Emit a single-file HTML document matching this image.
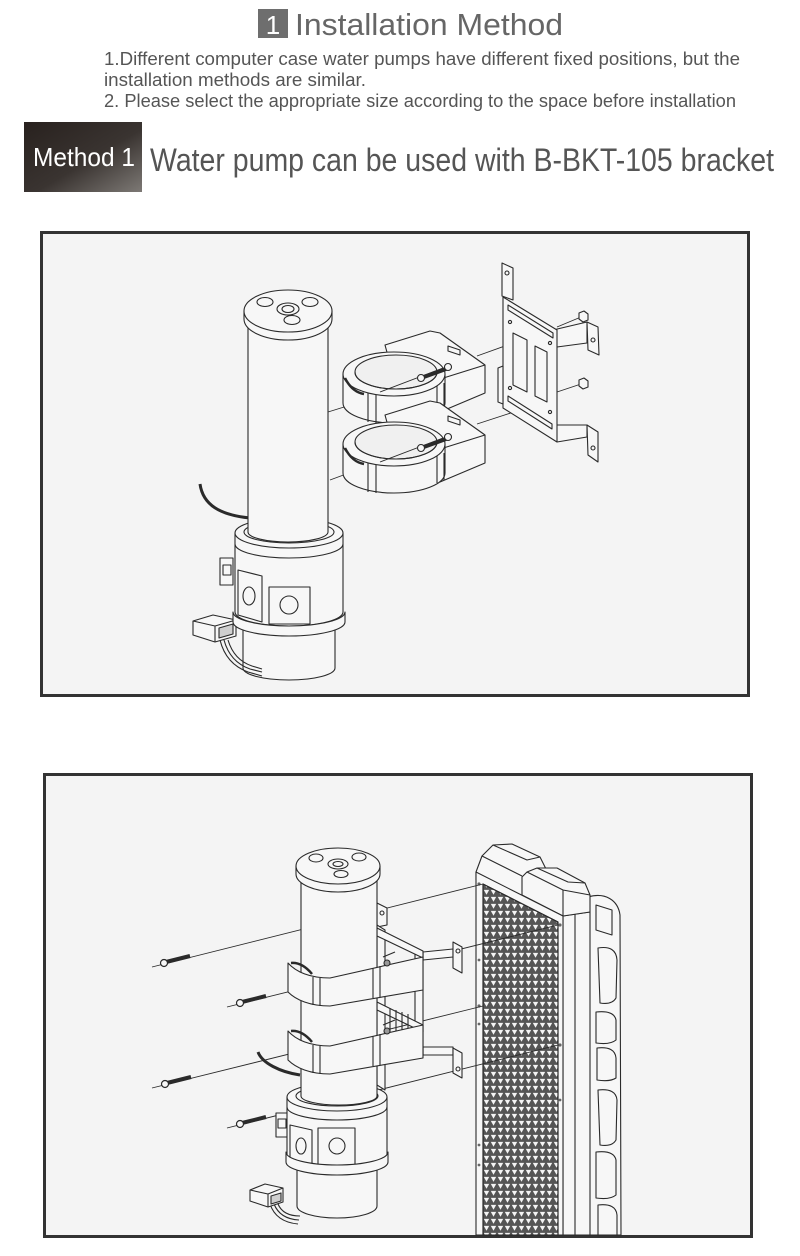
<!DOCTYPE html>
<html><head><meta charset="utf-8">
<style>
html,body{margin:0;padding:0;background:#fff;}
svg{display:block;}
</style></head><body>
<svg width="800" height="1256" viewBox="0 0 800 1256" xmlns="http://www.w3.org/2000/svg">
<defs>
<linearGradient id="mg" x1="0" y1="0" x2="1" y2="1">
 <stop offset="0" stop-color="#28211e"/>
 <stop offset="0.55" stop-color="#3a3431"/>
 <stop offset="1" stop-color="#7d7975"/>
</linearGradient>
<pattern id="mesh" width="7" height="7" patternUnits="userSpaceOnUse">
 <rect width="7" height="7" fill="#555"/>
 <path d="M0.8,0.9 L6.2,0.9 L3.5,5.7 Z" fill="#f4f4f4"/>
</pattern>
</defs>
<rect width="800" height="1256" fill="#fff"/>

<!-- ===== Header ===== -->
<rect x="258" y="9" width="30" height="29" fill="#6e6e6e"/>
<text x="273" y="34" font-family="Liberation Sans, sans-serif" font-size="26" fill="#fff" text-anchor="middle">1</text>
<text x="295" y="35" font-family="Liberation Sans, sans-serif" font-size="31" fill="#666" textLength="268" lengthAdjust="spacingAndGlyphs">Installation Method</text>

<g font-family="Liberation Sans, sans-serif" font-size="18" fill="#555">
<text x="104" y="65" textLength="636" lengthAdjust="spacingAndGlyphs">1.Different computer case water pumps have different fixed positions, but the</text>
<text x="104" y="86" textLength="262" lengthAdjust="spacingAndGlyphs">installation methods are similar.</text>
<text x="104" y="107" textLength="632" lengthAdjust="spacingAndGlyphs">2. Please select the appropriate size according to the space before installation</text>
</g>

<rect x="24" y="122" width="118" height="70" fill="url(#mg)"/>
<text x="33" y="166" font-family="Liberation Sans, sans-serif" font-size="26" fill="#fff" textLength="102" lengthAdjust="spacingAndGlyphs">Method 1</text>
<text x="150" y="171" font-family="Liberation Sans, sans-serif" font-size="32" fill="#555" textLength="624" lengthAdjust="spacingAndGlyphs">Water pump can be used with B-BKT-105 bracket</text>

<!-- ===== Panel 1 ===== -->
<rect x="41.5" y="232.5" width="707" height="463" fill="#f4f4f4" stroke="#333" stroke-width="3"/>

<g fill="none" stroke="#2a2a2a" stroke-width="0.9">
 <line x1="328" y1="412" x2="357" y2="403"/>
 <line x1="330" y1="480" x2="357" y2="470"/>
 <line x1="477" y1="356" x2="527" y2="338"/>
 <line x1="477" y1="424" x2="520" y2="410"/>
 <line x1="557" y1="327" x2="581" y2="317"/>
 <line x1="557" y1="392" x2="581" y2="384"/>
</g>

<g fill="#f7f7f7" stroke="#2a2a2a" stroke-width="1.1" stroke-linejoin="round">
 <!-- cable -->
 <path d="M200,484 C203,505 220,515 250,518" fill="none" stroke-width="3"/>
 <!-- bottom cylinder -->
 <path d="M243,620 L243,668 A46,12 0 0 0 335,668 L335,620 Z"/>
 <!-- wires -->
 <path d="M220,640 Q226,664 248,672 L262,676" fill="none"/>
 <path d="M224,640 Q230,662 250,669 L262,672" fill="none"/>
 <path d="M228,640 Q234,660 252,666 L262,669" fill="none"/>
 <!-- connector -->
 <path d="M193,621 L213,615 L236,620 L236,636 L215,642 L193,635 Z"/>
 <path d="M193,621 L215,626 L236,620 M215,626 L215,642" fill="none"/>
 <path d="M219,628 L233,624 L233,634 L219,638 Z" fill="#cfcfcf"/>
 <!-- tab -->
 <rect x="220" y="558" width="13" height="27"/>
 <rect x="223" y="565" width="8" height="10"/>
 <!-- housing -->
 <path d="M235,533 L235,612 A54,14 0 0 0 343,612 L343,533 Z"/>
 <path d="M235,544 A54,14 0 0 0 343,544" fill="none"/>
 <path d="M238,570 L262,576 L262,622 L238,615 Z"/>
 <ellipse cx="249" cy="596" rx="6" ry="9"/>
 <path d="M269,587 L310,587 L310,624 L269,624 Z"/>
 <circle cx="289" cy="605" r="9"/>
 <!-- ring band -->
 <path d="M233,612 L233,622 A56,14 0 0 0 345,622 L345,612 A56,14 0 0 1 233,612 Z"/>
 <!-- collar top -->
 <ellipse cx="289" cy="533" rx="54" ry="15"/>
 <ellipse cx="289" cy="532" rx="45" ry="11"/>
 <!-- body -->
 <path d="M248,318 L248,532 A40,10 0 0 0 328,532 L328,318 Z"/>
 <!-- cap -->
 <path d="M244,311 L244,319 A44,21 0 0 0 332,319 L332,311 Z"/>
 <ellipse cx="288" cy="311" rx="44" ry="21"/>
 <ellipse cx="288" cy="309" rx="11" ry="6"/>
 <ellipse cx="288" cy="309" rx="6" ry="3.5"/>
 <ellipse cx="265" cy="302" rx="8" ry="4.5"/>
 <ellipse cx="310" cy="302" rx="8" ry="4.5"/>
 <ellipse cx="292" cy="320" rx="8" ry="4.5"/>
</g>

<!-- clamps panel 1 -->
<g id="c1" fill="#f7f7f7" stroke="#2a2a2a" stroke-width="1.1" stroke-linejoin="round">
 <path d="M385,345 L430,331 L440,333 L485,365 L485,393 L440,412 L400,400 Z"/>
 <path d="M437,380 L485,365 M437,380 L440,412" fill="none"/>
 <path d="M448,346 L460,350 L460,355 L448,351 Z"/>
 <path d="M343,374 L343,403 A51,20 0 0 0 445,403 L445,374 Z"/>
 <ellipse cx="394" cy="374" rx="51" ry="22"/>
 <ellipse cx="396" cy="372" rx="41" ry="17" fill="#f0f0f0"/>
 <path d="M355,372 A41,17 0 0 0 437,372" fill="none"/>
 <path d="M368,393 L368,422 M376,395 L376,423 M437,386 L437,413 M444,383 L444,410" fill="none"/>
 <path d="M345,378 Q352,392 364,394" fill="none" stroke-width="2.5"/>
 <line x1="380" y1="392" x2="443" y2="368" stroke-width="0.9"/>
 <line x1="421" y1="378" x2="446" y2="369" stroke-width="4"/>
 <circle cx="421" cy="378" r="3.5"/>
 <circle cx="448" cy="367" r="3.5"/>
</g>
<use href="#c1" transform="translate(0,70)"/>

<!-- plate panel 1 -->
<g fill="#f7f7f7" stroke="#2a2a2a" stroke-width="1.1" stroke-linejoin="round">
 <path d="M502,263 L513,268 L513,300 L502,296 Z"/>
 <circle cx="507" cy="273" r="2"/>
 <path d="M553,330 L587,322 L587,343 L557,347 Z"/>
 <path d="M587,322 L598,327 L599,355 L588,350 Z"/>
 <circle cx="593" cy="340" r="2"/>
 <path d="M553,425 L587,425 L587,437 L557,442 Z"/>
 <path d="M587,425 L598,432 L598,462 L588,455 Z"/>
 <circle cx="593" cy="448" r="2"/>
 <path d="M503,297 L557,330 L557,442 L503,408 Z"/>
 <path d="M498,368 L503,366 L503,404 L498,402 Z"/>
 <path d="M508,305 L553,333 L553,338 L508,310 Z"/>
 <path d="M508,396 L552,424 L552,429 L508,401 Z"/>
 <path d="M513,333 L527,340 L527,392 L513,385 Z"/>
 <path d="M535,346 L547,352 L547,402 L535,396 Z"/>
 <circle cx="510" cy="322" r="1.6"/>
 <circle cx="550" cy="343" r="1.6"/>
 <circle cx="510" cy="388" r="1.6"/>
 <circle cx="550" cy="412" r="1.6"/>
 <path d="M579,313 L584,311 L588,314 L588,320 L583,322 L579,319 Z"/>
 <path d="M579,380 L584,378 L588,381 L588,387 L583,389 L579,386 Z"/>
</g>

<!-- ===== Panel 2 ===== -->
<rect x="44.5" y="774.5" width="707" height="462" fill="#f4f4f4" stroke="#333" stroke-width="3"/>

<!-- radiator -->
<g fill="#f7f7f7" stroke="#2a2a2a" stroke-width="1.1" stroke-linejoin="round">
 <!-- fan shroud -->
 <path d="M588,897 C605,892 618,900 620,915 L621,1235 L588,1235 Z"/>
 <path d="M598,948 Q616,945 617,960 L616,998 Q612,1005 600,1003 Z"/>
 <path d="M596,1012 Q614,1010 616,1020 L616,1040 Q610,1045 596,1043 Z"/>
 <path d="M597,1048 Q615,1046 616,1058 L616,1078 Q610,1082 597,1080 Z"/>
 <path d="M598,1090 Q616,1088 617,1100 L616,1140 Q612,1147 600,1145 Z"/>
 <path d="M596,1152 Q614,1150 616,1160 L616,1195 Q610,1200 596,1198 Z"/>
 <path d="M598,1205 Q616,1203 617,1215 L617,1235 L598,1235 Z"/>
 <path d="M596,905 L612,910 L612,935 L596,930 Z"/>
 <!-- side panel -->
 <path d="M563,916 L590,912 L590,1235 L563,1235 Z"/>
 <line x1="575" y1="914" x2="575" y2="1235"/>
 <!-- tank A -->
 <path d="M476,872 L482,856 L493,845 L512,844 L540,857 L546,869 L546,905 L476,880 Z"/>
 <path d="M482,856 L522,876 M493,845 L527,860 L540,857" fill="none"/>
 <!-- tank B -->
 <path d="M522,877 L527,872 L537,868 L557,868 L585,883 L590,895 L590,912 L563,916 L522,895 Z"/>
 <path d="M527,872 L563,890 L590,895 M537,868 L568,882 L585,883 M563,890 L563,916" fill="none"/>
 <!-- front plate -->
 <path d="M476,872 L563,916 L563,1235 L476,1235 Z"/>
 <!-- mesh -->
 <path d="M483,884 L558,922 L558,1235 L483,1235 Z" fill="url(#mesh)"/>
 <path d="M483,884 L558,922 L558,1235 L483,1235 Z" fill="none"/>
</g>
<g fill="#666" stroke="none">
 <circle cx="479" cy="884" r="1.6"/><circle cx="479" cy="960" r="1.4"/><circle cx="479" cy="1006" r="1.6"/>
 <circle cx="479" cy="1024" r="1.4"/><circle cx="479" cy="1145" r="1.4"/><circle cx="479" cy="1165" r="1.4"/>
 <circle cx="560" cy="925" r="1.6"/><circle cx="560" cy="1045" r="1.6"/><circle cx="560" cy="1100" r="1.4"/>
</g>

<!-- lines -->
<g fill="none" stroke="#2a2a2a" stroke-width="0.9">
 <line x1="152" y1="967" x2="483" y2="884"/>
 <line x1="227" y1="1007" x2="558" y2="925"/>
 <line x1="152" y1="1088" x2="483" y2="1006"/>
 <line x1="227" y1="1128" x2="558" y2="1045"/>
</g>
<!-- screws -->
<g stroke="#2a2a2a" fill="#f7f7f7">
 <line x1="166" y1="962" x2="190" y2="956" stroke-width="4"/>
 <circle cx="164" cy="963" r="3.5" stroke-width="1.2"/>
 <line x1="242" y1="1002" x2="266" y2="996" stroke-width="4"/>
 <circle cx="240" cy="1003" r="3.5" stroke-width="1.2"/>
 <line x1="167" y1="1083" x2="191" y2="1077" stroke-width="4"/>
 <circle cx="165" cy="1084" r="3.5" stroke-width="1.2"/>
 <line x1="242" y1="1123" x2="266" y2="1117" stroke-width="4"/>
 <circle cx="240" cy="1124" r="3.5" stroke-width="1.2"/>
</g>

<!-- bracket panel 2 -->
<g fill="#f7f7f7" stroke="#2a2a2a" stroke-width="1.1" stroke-linejoin="round">
 <path d="M423,952 L453,949 L453,957 L423,960 Z"/>
 <path d="M453,942 L462,947 L462,973 L453,968 Z"/>
 <circle cx="458" cy="951" r="2"/>
 <path d="M423,1047 L453,1047 L453,1055 L423,1055 Z"/>
 <path d="M453,1048 L462,1053 L462,1078 L453,1073 Z"/>
 <circle cx="458" cy="1069" r="2"/>
 <path d="M415,950 L423,953 L423,1055 L415,1052 Z"/>
 <path d="M377,903 L387,908 L387,925 L377,927 Z"/>
 <circle cx="382" cy="913" r="2"/>
 <path d="M377,925 L385,930 L385,1090 L377,1085 Z"/>
 <path d="M377,928 L423,951 L423,958 L377,936 Z"/>
 <path d="M377,1002 L423,1025 L423,1032 L377,1010 Z"/>
 <path d="M390,1008 L390,1032 M396,1010 L396,1034 M402,1012 L402,1036 M408,1014 L408,1038" fill="none"/>
</g>

<!-- pump panel 2 -->
<g fill="#f7f7f7" stroke="#2a2a2a" stroke-width="1.1" stroke-linejoin="round">
 <path d="M258,1052 C262,1063 280,1072 300,1075" fill="none" stroke-width="3"/>
 <path d="M297,1160 L297,1206 A40,12 0 0 0 377,1206 L377,1160 Z"/>
 <path d="M270,1204 Q276,1222 298,1224" fill="none"/>
 <path d="M274,1204 Q280,1219 299,1220" fill="none"/>
 <path d="M278,1204 Q283,1216 300,1216" fill="none"/>
 <path d="M250,1190 L265,1184 L283,1188 L283,1202 L268,1207 L250,1201 Z"/>
 <path d="M250,1190 L268,1194 L283,1188 M268,1194 L268,1207" fill="none"/>
 <path d="M271,1196 L281,1193 L281,1201 L271,1204 Z" fill="#cfcfcf"/>
 <rect x="276" y="1113" width="12" height="24"/>
 <rect x="278" y="1119" width="8" height="9"/>
 <path d="M287,1097 L287,1155 A50,13 0 0 0 387,1155 L387,1097 Z"/>
 <path d="M287,1107 A50,13 0 0 0 387,1107" fill="none"/>
 <path d="M290,1125 L312,1130 L312,1168 L290,1163 Z"/>
 <ellipse cx="301" cy="1146" rx="5" ry="8"/>
 <path d="M318,1128 L355,1128 L355,1167 L318,1167 Z"/>
 <circle cx="337" cy="1146" r="8"/>
 <path d="M286,1152 L286,1162 A51,13 0 0 0 388,1162 L388,1152 A51,13 0 0 1 286,1152 Z"/>
 <ellipse cx="337" cy="1097" rx="50" ry="14"/>
 <ellipse cx="337" cy="1096" rx="41" ry="10"/>
 <path d="M301,880 L301,1096 A38,9 0 0 0 377,1096 L377,880 Z"/>
 <path d="M296,866 L296,874 A42,18 0 0 0 380,874 L380,866 Z"/>
 <ellipse cx="338" cy="866" rx="42" ry="18"/>
 <ellipse cx="338" cy="864" rx="10" ry="5"/>
 <ellipse cx="338" cy="864" rx="5" ry="2.5"/>
 <ellipse cx="316" cy="858" rx="7" ry="4"/>
 <ellipse cx="359" cy="857" rx="7" ry="4"/>
 <ellipse cx="341" cy="874" rx="7" ry="3.5"/>
</g>

<!-- clamp bands panel 2 -->
<g id="b2" fill="#f7f7f7" stroke="#2a2a2a" stroke-width="1.1" stroke-linejoin="round">
 <path d="M288,963 C296,972 310,978 330,978 L423,957 L423,990 L330,1006 C310,1006 296,1000 288,992 Z"/>
 <path d="M313,977 L313,1005 M320,978 L320,1006 M373,968 L373,998 M380,966 L380,997" fill="none"/>
 <path d="M291,963 Q302,962 312,974" fill="none" stroke-width="2.5"/>
 <circle cx="387" cy="963" r="3" fill="#999"/>
 <path d="M383,957 L395,952" fill="none"/>
</g>
<use href="#b2" transform="translate(0,68)"/>

</svg>
</body></html>
